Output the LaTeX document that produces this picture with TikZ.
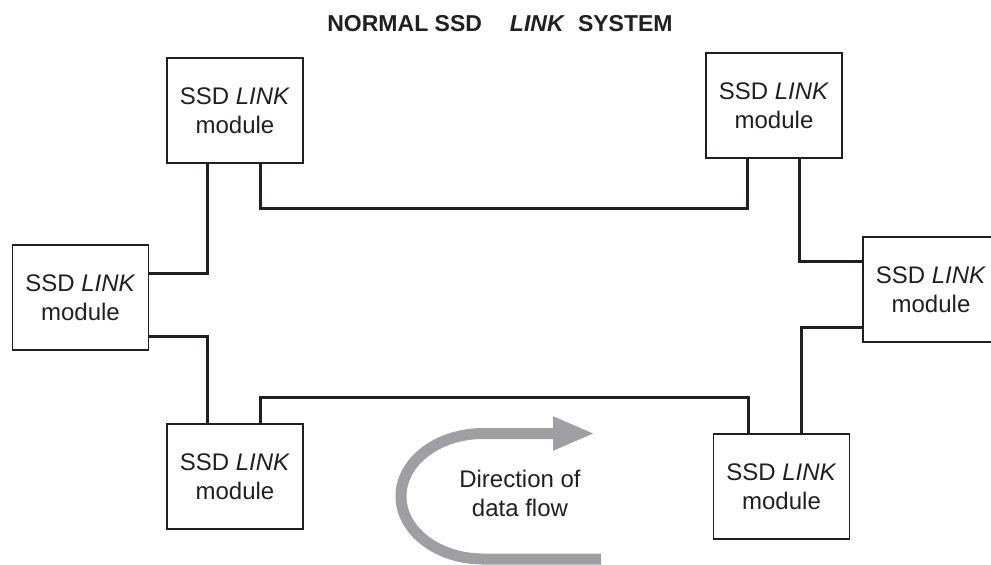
\documentclass[tikz,border=0pt]{standalone}
\usepackage{fontspec}
\setmainfont{Liberation Sans}
\usetikzlibrary{arrows.meta}
\definecolor{linkblack}{RGB}{35, 31, 32}
\definecolor{flowgray}{RGB}{158, 158, 163}
\tikzset{
  modbox/.style={
    rectangle, draw=linkblack, line width=0.9pt,
    minimum width=68pt, minimum height=52.5pt, inner sep=0pt,
    font=\fontsize{12}{14.5}\selectfont, text=linkblack, align=center
  },
  linkline/.style={
    line width=1.5pt, color=linkblack
  },
  flowarrow/.style={
    -{Triangle[length=21pt, width=15.5pt]}, line width=5.5pt, color=flowgray
  }
}

\begin{document}
\begin{tikzpicture}[x=0.5pt, y=-0.5pt]
  \useasboundingbox (0,0) rectangle (991,564);

  % ── Title ──────────────────────────────────────────────
  \node[font=\bfseries\fontsize{11.5}{13}\selectfont, text=linkblack]
    (title) at (500,23.5)
    {NORMAL SSD\hspace{14pt}\textit{LINK}\hspace{6.5pt}SYSTEM};

  % ── Modules ────────────────────────────────────────────
  \node[modbox] (modnw) at (235,110.5) {SSD \textit{LINK}\\module};
  \node[modbox] (modne) at (774,105.5) {SSD \textit{LINK}\\module};
  \node[modbox] (modw)  at (80.5,297.5) {SSD \textit{LINK}\\module};
  \node[modbox] (mode)  at (931,289.5) {SSD \textit{LINK}\\module};
  \node[modbox] (modsw) at (235,476.5) {SSD \textit{LINK}\\module};
  \node[modbox] (modse) at (781.5,486.5) {SSD \textit{LINK}\\module};

  % ── Ring bus heights ───────────────────────────────────
  \coordinate (busn) at (0,208);
  \coordinate (buss) at (0,397.5);

  % ── Links ──────────────────────────────────────────────
  \draw[linkline] ([xshift=-14pt]modnw.south) |- ([yshift=12.25pt]modw.east);
  \draw[linkline] ([xshift=12.5pt]modnw.south) -- ([xshift=12.5pt]modnw.south |- busn)
    -| ([xshift=-13.5pt]modne.south);
  \draw[linkline] ([xshift=12.5pt]modne.south) |- ([yshift=14.25pt]mode.west);
  \draw[linkline] ([yshift=-18.75pt]mode.west) -| ([xshift=9.75pt]modse.north);
  \draw[linkline] ([xshift=-16.75pt]modse.north) -- ([xshift=-16.75pt]modse.north |- buss)
    -| ([xshift=12.5pt]modsw.north);
  \draw[linkline] ([xshift=-14pt]modsw.north) |- ([yshift=-19.25pt]modw.east);

  % ── Direction of data flow ─────────────────────────────
  \node[font=\fontsize{12}{14.5}\selectfont, text=linkblack, align=center]
    (flowtext) at (520,493) {Direction of\\data flow};
  \coordinate (flowtail) at (601,559);
  \coordinate (flowtip)  at (595,433.5);
  \draw[flowarrow] (flowtail) -- (483,559)
    arc[start angle=90, end angle=270, x radius=82, y radius=62.75] -- (flowtip);

\end{tikzpicture}
\end{document}
